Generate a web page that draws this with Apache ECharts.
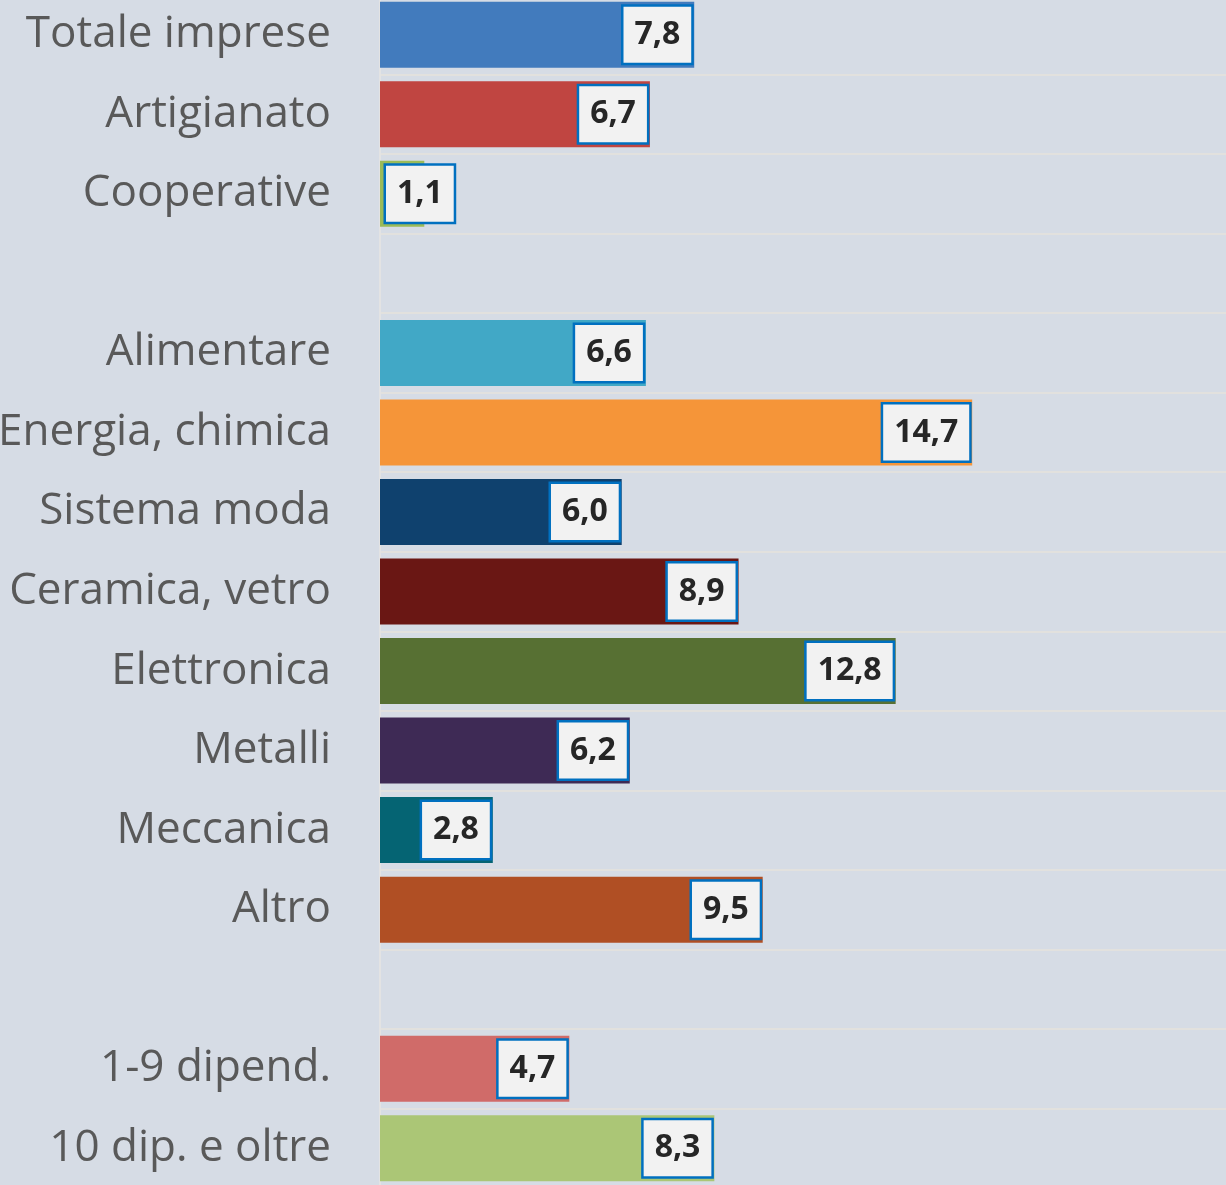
<!DOCTYPE html>
<html>
<head>
<meta charset="utf-8">
<script src="https://cdn.jsdelivr.net/npm/echarts@6/dist/echarts.min.js"></script>
<style>
  html, body { margin: 0; padding: 0; background: #d6dce5; overflow: hidden; }
  #chart { width: 1226px; height: 1196px; margin-top: -5px; }
</style>
</head>
<body>
<div id="chart"></div>
<script>
// categorie (le righe vuote separano i gruppi)
const categories = [
  'Totale imprese', 'Artigianato', 'Cooperative', '',
  'Alimentare', 'Energia, chimica', 'Sistema moda', 'Ceramica, vetro',
  'Elettronica', 'Metalli', 'Meccanica', 'Altro', '',
  '1-9 dipend.', '10 dip. e oltre',
]
const values = [7.8, 6.7, 1.1, null, 6.6, 14.7, 6.0, 8.9, 12.8, 6.2, 2.8, 9.5, null, 4.7, 8.3]
const barColors = [
  '#427bbd', '#c04541', '#9bbb59', '#000',
  '#41a8c6', '#f59539', '#0f416e', '#6a1714',
  '#577033', '#3e2a55', '#056473', '#b04f24', '#000',
  '#d06b69', '#abc676',
]

const chart = echarts.init(document.getElementById('chart'))

chart.setOption({
  backgroundColor: '#d6dce5',
  animation: false,
  grid: { left: 380, right: 0, top: 0, bottom: 3, containLabel: false, outerBoundsMode: 'none' },
  xAxis: {
    type: 'value',
    min: 0,
    max: 21,
    show: false,
  },
  yAxis: {
    type: 'category',
    inverse: true,
    data: categories,
    axisLine: { show: true, lineStyle: { color: '#e3e3e3', width: 2 } },
    axisTick: { show: false },
    axisLabel: {
      margin: 49,
      color: '#595959',
      fontSize: 44,
      fontFamily: 'Open Sans',
    },
    splitLine: { show: true, lineStyle: { color: '#e2e1de', width: 2 } },
  },
  series: [{
    type: 'bar',
    barCategoryGap: '17%',
    data: values.map((v, i) => ({
      value: v === null ? '-' : v,
      itemStyle: { color: barColors[i] },
      // barra troppo corta: etichetta agganciata a sinistra
      label: v !== null && v < 2 ? { position: 'insideLeft', distance: 6 } : undefined,
    })),
    label: {
      show: true,
      position: 'insideRight',
      distance: 3,
      formatter: (p) => p.value.toFixed(1).replace('.', ','),
      backgroundColor: '#f2f2f2',
      borderColor: '#0070c0',
      borderWidth: 2.5,
      padding: [13, 11, 9, 11],
      lineHeight: 34,
      color: '#262626',
      fontSize: 32,
      fontWeight: 'bold',
      fontFamily: 'Open Sans',
    },
  }],
})
</script>
</body>
</html>
